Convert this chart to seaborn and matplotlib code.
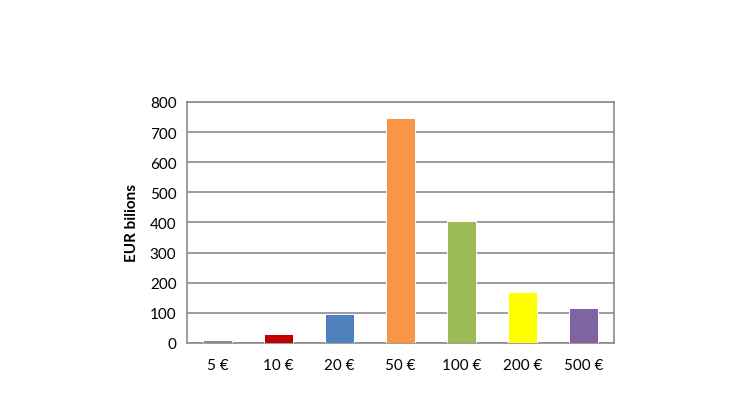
import numpy as np
import pandas as pd
import seaborn as sns
import matplotlib.pyplot as plt

# Banknote denominations and value in circulation (EUR bn)
notes = ['5 €', '10 €', '20 €', '50 €', '100 €', '200 €', '500 €']
values = [10, 30, 96, 746, 405, 169, 117]
colours = ['#8c8c8c', '#c00000', '#4f81bd', '#f79646', '#9bbb59', '#ffff00', '#8064a2']

df = pd.DataFrame({'note': notes, 'value': values})

sns.set_style('white')
plt.rcParams['font.family'] = ['Lato', 'DejaVu Sans']

fig = plt.figure(figsize=(7.3, 4.1), dpi=100)
ax = fig.add_axes([0.256, 0.161, 0.585, 0.588])

sns.barplot(data=df, x='note', y='value', hue='note', palette=colours, saturation=1,
            width=0.48, edgecolor='white', linewidth=0.7, legend=False, ax=ax, zorder=3)

ax.set_ylim(0, 800)
ax.set_xlim(-0.5, 6.5)
ax.set_yticks(np.arange(0, 801, 100))
ax.yaxis.grid(True, color='#8c8c8c', linewidth=1.2, zorder=0)
ax.set_axisbelow(True)

# tick marks between categories
ax.set_xticks(np.arange(-0.5, 7, 1), minor=True)
ax.tick_params(axis='x', which='major', length=0, labelsize=11, pad=11, labelcolor='black')
ax.tick_params(axis='x', which='minor', length=5, width=1.2, color='#8c8c8c', direction='out')
ax.tick_params(axis='y', length=4, width=1.2, color='#8c8c8c', labelsize=11, direction='out',
               labelcolor='black')

for s in ['left', 'bottom', 'right', 'top']:
    ax.spines[s].set_visible(True)
    ax.spines[s].set_color('#8c8c8c')
    ax.spines[s].set_linewidth(1.2)

ax.set_xlabel('')
ax.set_ylabel('EUR bilions', fontsize=11, fontweight='bold', color='black', labelpad=8)

fig.savefig('out.png', dpi=100)
